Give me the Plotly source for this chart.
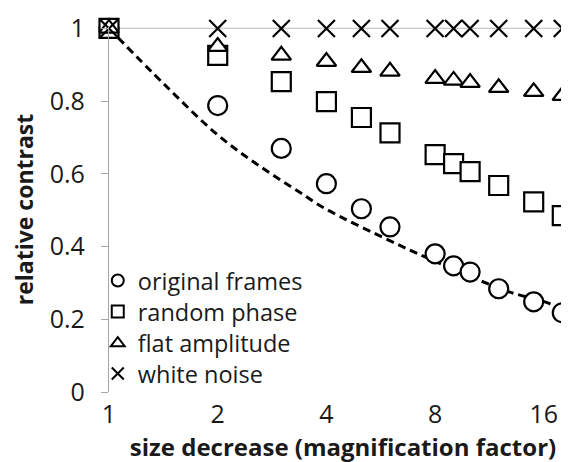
import plotly.graph_objects as go

x_vals = [1, 2, 3, 4, 5, 6, 8, 9, 10, 12, 15, 18]
original_frames = [1.0, 0.788, 0.67, 0.573, 0.504, 0.454, 0.38, 0.347, 0.33, 0.284, 0.248, 0.218]
random_phase = [1.0, 0.926, 0.854, 0.799, 0.755, 0.713, 0.653, 0.628, 0.606, 0.568, 0.523, 0.485]
flat_amplitude = [1.0, 0.95, 0.926, 0.909, 0.892, 0.882, 0.862, 0.857, 0.851, 0.837, 0.826, 0.815]
white_noise = [1.0] * 12

fit_x = [1, 1.43, 2, 2.59, 3.34, 3.96, 6.03, 7.65, 12.7, 16.4, 18]
fit_y = [1.0, 0.844, 0.707, 0.624, 0.552, 0.505, 0.415, 0.368, 0.277, 0.245, 0.225]

x_ticks = [1, 2, 4, 8, 16]
y_ticks = [0, 0.2, 0.4, 0.6, 0.8, 1]

FONT = "Open Sans"
fig = go.Figure()

fig.add_trace(go.Scatter(x=fit_x, y=fit_y, mode="lines", showlegend=False,
                         line=dict(color="black", width=3, dash="8px,5px", shape="spline"),
                         hoverinfo="skip"))

series = [
    ("original frames", original_frames, "circle", 19),
    ("random phase", random_phase, "square", 19),
    ("flat amplitude", flat_amplitude, "triangle-up", 17),
    ("white noise", white_noise, "x-thin", 17),
]
legend_names = ["legend", "legend2", "legend3", "legend4"]
legend_rows = [0.305, 0.220, 0.133, 0.050]
for i, (name, vals, sym, sz) in enumerate(series):
    if sym == "x-thin":
        marker = dict(symbol="x-thin-open", size=sz, line=dict(color="black", width=2.2), color="black")
    else:
        marker = dict(symbol=sym, size=sz, color="white", line=dict(color="black", width=2.2))
    fig.add_trace(go.Scatter(x=x_vals, y=vals, mode="markers", name=name, marker=marker,
                             cliponaxis=False, legend=legend_names[i]))

fig.add_shape(type="line", xref="paper", x0=0, x1=1, yref="y", y0=1, y1=1,
              line=dict(color="#c8c8c8", width=1.3), layer="below")

legend_style = dict(x=-0.024, xanchor="left", yanchor="middle",
                    bgcolor="rgba(0,0,0,0)", font=dict(size=23.5, family=FONT, color="#1a1a1a"),
                    itemsizing="constant")
layout_legends = {ln: dict(legend_style, y=yr) for ln, yr in zip(legend_names, legend_rows)}

fig.update_layout(
    width=569, height=462,
    margin=dict(l=101, r=0, t=19, b=78),
    paper_bgcolor="white", plot_bgcolor="white",
    font=dict(family=FONT, size=25, color="#1a1a1a"),
    xaxis=dict(type="log", range=[0, 1.296], tickvals=x_ticks, ticktext=[str(t) for t in x_ticks],
               showline=False, showgrid=False, zeroline=False, ticks="",
               ticklabelstandoff=5,
               title=dict(text="<b>size decrease (magnification factor)</b>", standoff=8,
                          font=dict(size=24, family=FONT))),
    yaxis=dict(range=[0, 1.004], tickvals=y_ticks, showline=True, linecolor="#a6a6a6", linewidth=1.3,
               showgrid=False, zeroline=False, ticks="outside", ticklen=7, tickcolor="#a6a6a6",
               ticklabelstandoff=11,
               title=dict(text="<b>relative contrast</b>", standoff=10,
                          font=dict(size=23, family=FONT))),
    **layout_legends,
)

fig.write_html("out.html")
